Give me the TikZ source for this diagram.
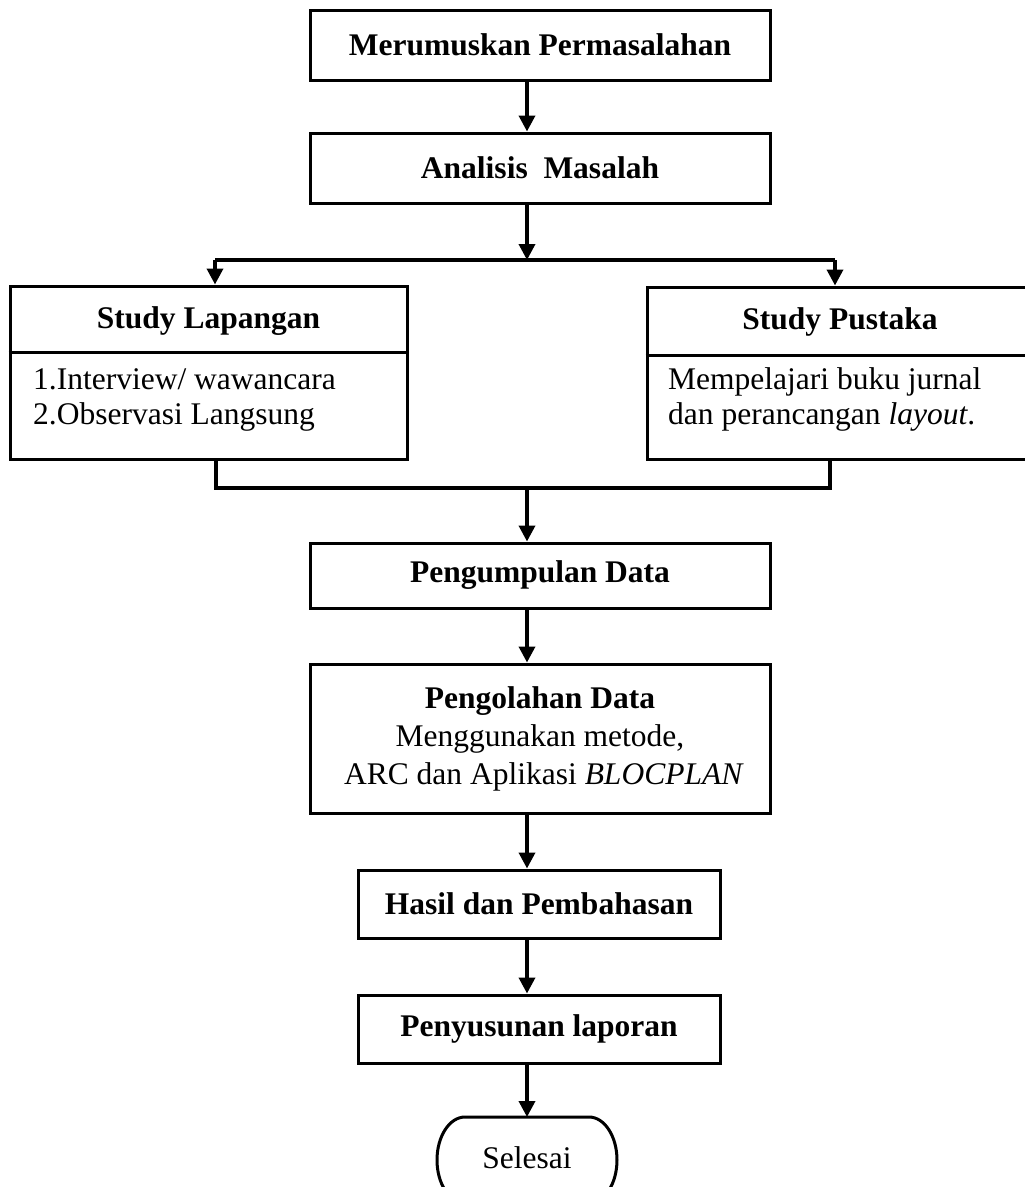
\documentclass[tikz,border=0pt]{standalone}
\usepackage{fontspec}
\setmainfont{Liberation Serif}
\usetikzlibrary{arrows.meta}
\begin{document}
\begin{tikzpicture}[x=1pt,y=-1pt,
  box/.style={draw, line width=3pt, rectangle, inner sep=0pt,
    font=\fontsize{31.5}{36}\selectfont, align=center},
  ttl/.style={inner sep=0pt, font=\fontsize{31.5}{36}\selectfont\bfseries},
  body/.style={inner sep=0pt, align=left, font=\fontsize{31.5}{35}\selectfont},
  conn/.style={line width=3.6pt, line join=miter},
  arr/.style={conn, -{Triangle[width=16pt,length=16pt]}},
  term/.style={inner sep=0pt, font=\fontsize{31.5}{36}\selectfont}]
\useasboundingbox (0,0) rectangle (1025,1187);
\coordinate (spine) at (527,0);

\node[box, minimum width=460pt, minimum height=70pt] (b1) at (540,45)
  {\bfseries Merumuskan Permasalahan};
\node[box, minimum width=460pt, minimum height=70pt] (b2) at (540,168)
  {\bfseries Analisis\ \ Masalah};

% Study Lapangan
\node[box, minimum width=397pt, minimum height=173pt] (sl) at (208.5,372.5) {};
\draw[line width=3pt] (sl.west |- 0,352) -- (sl.east |- 0,352);
\node[ttl] (slt) at (208.5,321) {Study Lapangan};
\node[body, anchor=west] (slb) at (33,400) {1.Interview/ wawancara\\2.Observasi Langsung};

% Study Pustaka
\node[box, minimum width=386pt, minimum height=172pt] (sp) at (840,373) {};
\draw[line width=3pt] (sp.west |- 0,355) -- (sp.east |- 0,355);
\node[ttl] (spt) at (840,322) {Study Pustaka};
\node[body, anchor=west] (spb) at (668,399) {Mempelajari buku jurnal\\dan perancangan \textit{layout}.};

\node[box, minimum width=460pt, minimum height=65pt] (b3) at (540,575.5)
  {\bfseries Pengumpulan Data};
\node[box, minimum width=460pt, minimum height=149pt,
  font=\fontsize{31.5}{38}\selectfont] (b4) at (540,738.5)
  {\textbf{Pengolahan Data}\\Menggunakan metode,\\ \ ARC dan Aplikasi \textit{BLOCPLAN}};
\node[box, minimum width=362pt, minimum height=68pt] (b5) at (539,904)
  {\bfseries Hasil dan Pembahasan};
\node[box, minimum width=362pt, minimum height=68pt] (b6) at (539,1029)
  {\bfseries Penyusunan laporan};

% terminal (Selesai)
\node[term, minimum width=180pt, minimum height=86pt] (end) at (527,1158) {Selesai};
\draw[line width=3pt] (465,1117) -- (589,1117)
  arc[start angle=-90, end angle=90, x radius=28, y radius=43]
  -- (465,1203)
  arc[start angle=90, end angle=270, x radius=28, y radius=43] -- cycle;
\coordinate (endtop) at (527,1117);

% connectors
\draw[arr] (b1.south -| spine) -- (b2.north -| spine);
\coordinate (split) at (527,260);
\coordinate (slin) at (215,260);
\coordinate (spin) at (835,260);
\draw[arr] (b2.south -| spine) -- (split);
\draw[conn] (slin) -- (spin);
\draw[arr] (slin) -- (slin |- sl.north);
\draw[arr] (spin) -- (spin |- sp.north);

\coordinate (slout) at (216,488);
\coordinate (spout) at (830,488);
\coordinate (join) at (527,488);
\draw[conn] (slout |- sl.south) -- (slout) -- (spout) -- (spout |- sp.south);
\draw[arr] (join) -- (join |- b3.north);
\draw[arr] (b3.south -| spine) -- (b4.north -| spine);
\draw[arr] (b4.south -| spine) -- (b5.north -| spine);
\draw[arr] (b5.south -| spine) -- (b6.north -| spine);
\draw[arr] (b6.south -| spine) -- (endtop);
\end{tikzpicture}
\end{document}
